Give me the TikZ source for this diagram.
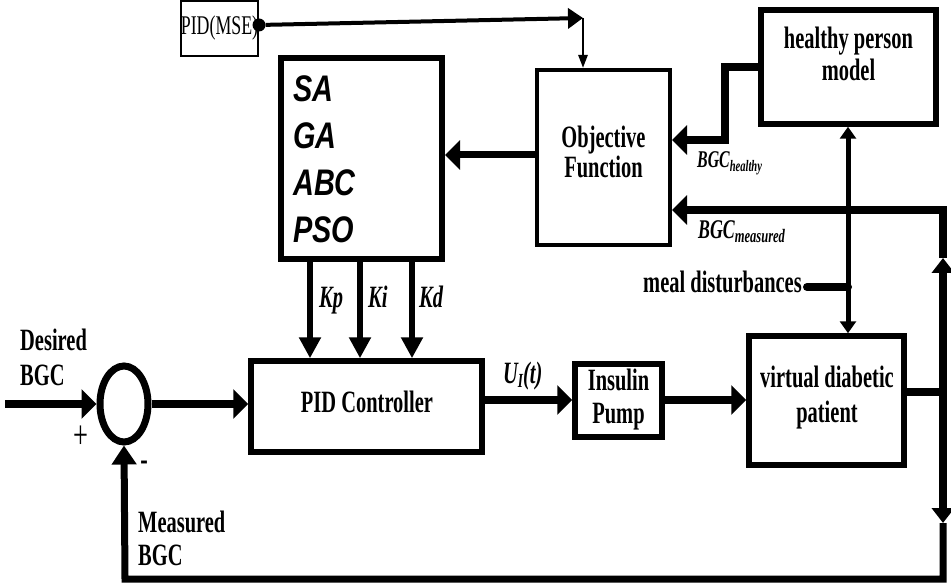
\documentclass[tikz,border=0pt]{standalone}
\usepackage{fontspec}
\setmainfont{Liberation Serif}[FakeStretch=0.66]
\newfontfamily\safont{Liberation Sans}[FakeStretch=0.78]
\usetikzlibrary{arrows.meta,shapes.geometric,calc}
\begin{document}
\begin{tikzpicture}[x=1pt,y=-1pt,
  box/.style={draw,line width=5.5pt,inner sep=0pt},
  lbl/.style={font=\fontsize{31}{32}\selectfont\bfseries,align=center,inner sep=0pt},
  ilbl/.style={font=\fontsize{31}{32}\selectfont\bfseries\itshape,inner sep=0pt},
  fat/.style={line width=8pt},
  med/.style={line width=6pt},
  tipBig/.style={-{Triangle[length=15pt,width=29pt]}},
  tipK/.style={-{Triangle[length=21pt,width=21pt]}},
  tipV/.style={-{Triangle[length=15pt,width=22pt]}},
  tipFB/.style={-{Triangle[length=19pt,width=24pt]}},
  tipMeal/.style={{Triangle[length=12pt,width=16pt]}-{Triangle[length=12pt,width=16pt]}},
  tipMSE/.style={-{Triangle[length=15pt,width=20pt]}},
  tipThin/.style={-{Triangle[length=13pt,width=9pt]}}]
\useasboundingbox (0,0) rectangle (951,588);

% boxes
\node[box,line width=2.5pt,minimum width=73pt,minimum height=55pt,
  font=\fontsize{27}{27}\selectfont] (mse) at (219.5,28.5) {PID(MSE)};
\node[box,line width=6pt,minimum width=161pt,minimum height=201pt] (sa) at (361.5,158.5) {};
\node[box,line width=4pt,minimum width=133pt,minimum height=175pt] (obj) at (603.5,157.5) {};
\node[box,minimum width=175pt,minimum height=114pt] (healthy) at (848.5,67) {};
\node[box,minimum width=231pt,minimum height=91pt] (pid) at (366.5,406.5) {};
\node[box,minimum width=87pt,minimum height=73pt] (pump) at (618.5,400.5) {};
\node[box,minimum width=155pt,minimum height=129pt] (patient) at (826.5,400.5) {};
\node[draw,ellipse,line width=7pt,minimum width=48pt,minimum height=76pt,inner sep=0pt] (sum) at (124,404) {};

% box texts
\node[inner sep=0pt,anchor=north west,align=left,
  font=\fontsize{37}{47}\selectfont\safont\bfseries\itshape] (satxt) at (293,75) {SA\\GA\\ABC\\PSO};
\node[lbl,anchor=north] (htxt) at (848.5,27) {healthy person\\model};
\node[lbl,anchor=north,font=\fontsize{31}{30}\selectfont\bfseries] (otxt) at (603.5,126) {Objective\\Function};
\node[lbl,anchor=base] (ptxt) at (367,412) {PID Controller};
\node[lbl,anchor=north,font=\fontsize{31}{33}\selectfont\bfseries] (itxt) at (618.5,369) {Insulin\\Pump};
\node[lbl,anchor=north,font=\fontsize{31}{35}\selectfont\bfseries] (vtxt) at (827,366) {virtual diabetic\\patient};

% outside labels
\node[lbl,anchor=north west,align=left,font=\fontsize{31}{35}\selectfont\bfseries] (des) at (20,329) {Desired\\BGC};
\node[lbl,anchor=north west,align=left,font=\fontsize{31}{33}\selectfont\bfseries] (mea) at (138,511) {Measured\\BGC};
\node[lbl,anchor=base east,inner xsep=5pt] (meal) at (807,293) {meal disturbances};
\node[inner sep=0pt,font=\fontsize{40}{40}\selectfont] (plus) at (81,437) {+};
\node[inner sep=0pt,font=\fontsize{34}{34}\selectfont\bfseries] (minus) at (144,466) {-};
\node[ilbl,anchor=base west] (kpl) at (319,307) {Kp};
\node[ilbl,anchor=base west] (kil) at (368,307) {Ki};
\node[ilbl,anchor=base west] (kdl) at (419,307) {Kd};
\node[ilbl,anchor=base west] (ul) at (503,383) {U{\fontsize{20}{20}\selectfont\raisebox{-4pt}{I}}(t)};
\node[anchor=base west,inner sep=0pt,font=\fontsize{24}{24}\selectfont\bfseries\itshape] (bh) at (697,168)
  {BGC{\fontsize{16}{16}\selectfont\raisebox{-4pt}{healthy}}};
\node[anchor=base west,inner sep=0pt,font=\fontsize{27}{27}\selectfont\bfseries\itshape] (bm) at (698,239)
  {BGC{\fontsize{19}{19}\selectfont\raisebox{-4pt}{measured}}};

% coordinates
\coordinate (in) at (5,404);
\coordinate (kp) at (310,300);
\coordinate (ki) at (360,300);
\coordinate (kd) at (412,300);
\coordinate (m1) at (500,155);
\coordinate (hc) at (725,67);
\coordinate (hb) at (725,140);
\coordinate (jn) at (943,392);
\coordinate (rtop) at (943,210);
\coordinate (rup) at (943,258);
\coordinate (rdn) at (943,523);
\coordinate (rbot) at (943,579);
\coordinate (fb) at (125,579);
\coordinate (mx) at (848,287);
\coordinate (fl) at (500,400);
\coordinate (tc) at (583,18);

% connectors
\draw[fat,tipBig] (in) -- (sum.west);
\draw[fat,tipBig] (sum.east) -- (pid.west |- sum.east);
\draw[med,tipK] (sa.south -| kp) -- (pid.north -| kp);
\draw[med,tipK] (sa.south -| ki) -- (pid.north -| ki);
\draw[med,tipK] (sa.south -| kd) -- (pid.north -| kd);
\draw[line width=7pt,tipBig] (obj.west |- m1) -- (sa.east |- m1);
\draw[fat,tipBig] (healthy.west |- hc) -- (hc) -- (hb) -- (obj.east |- hb);
\draw[fat,tipBig] (pid.east |- fl) -- (pump.west |- fl);
\draw[fat,tipBig] (pump.east |- fl) -- (patient.west |- fl);
\draw[fat] (patient.east |- jn) -- (jn);
\draw[fat,tipV] (jn) -- (rup);
\draw[fat,tipBig] (rup) -- (rtop) -- (obj.east |- rtop);
\draw[fat,tipV] (jn) -- (rdn);
\draw[line width=7pt,tipFB] (rdn) -- (rbot) -- (fb) -- (sum.south);
\draw[line width=5pt,tipMeal] (healthy.south -| mx) -- (patient.north -| mx);
\draw[fat,line cap=round] (meal.east |- mx) -- (mx);
\node[circle,fill,inner sep=0pt,minimum width=11pt,minimum height=13pt] (dot) at (259,25) {};
\draw[line width=4pt,tipMSE] (dot) -- (tc);
\draw[line width=2.5pt,tipThin] (tc) -- (obj.north -| tc);
\end{tikzpicture}
\end{document}
